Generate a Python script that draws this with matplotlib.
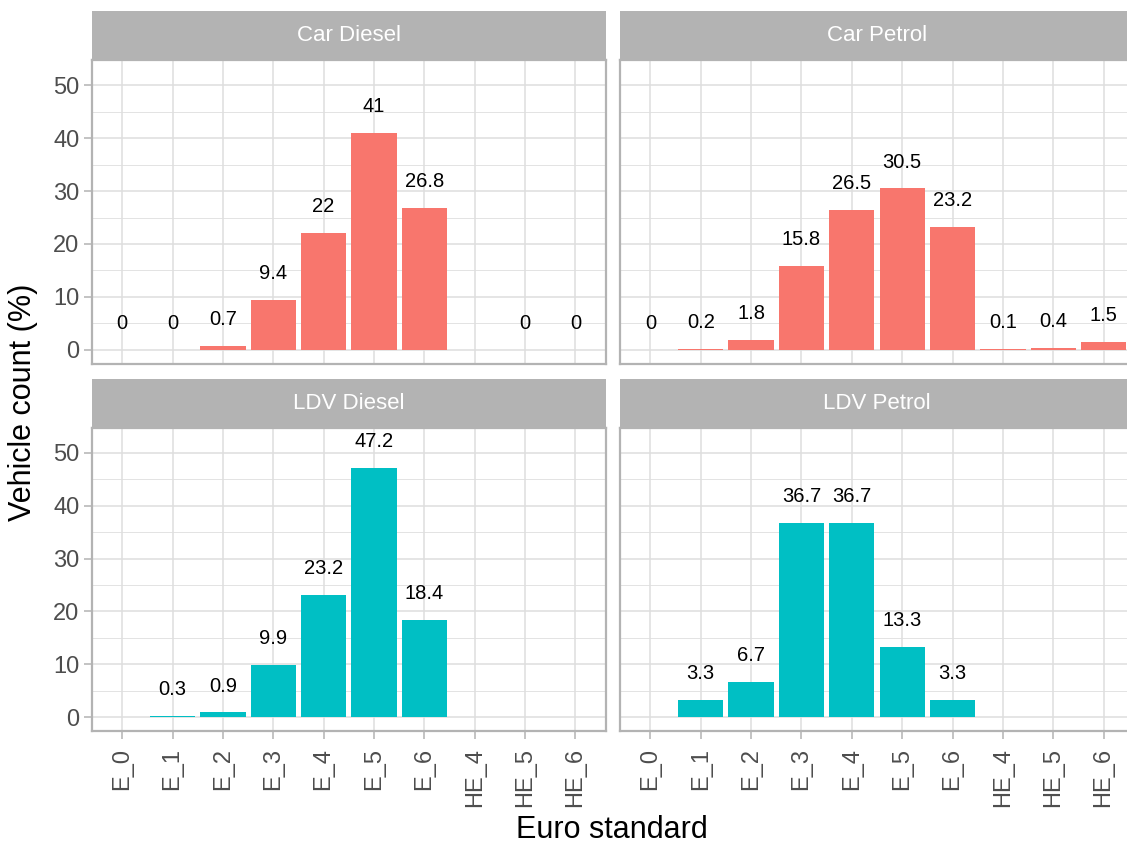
import numpy as np
import matplotlib
matplotlib.use("Agg")
import matplotlib.pyplot as plt
from matplotlib.ticker import MultipleLocator

plt.rcParams['font.family'] = ['Liberation Sans', 'DejaVu Sans']

# Euro emission standards on the x axis
euro_standards = ["E_0", "E_1", "E_2", "E_3", "E_4", "E_5", "E_6", "HE_4", "HE_5", "HE_6"]

# Share of vehicle count (%) per standard; NaN = category not present
nan = np.nan
car_diesel = [0, 0, 0.7, 9.4, 22, 41, 26.8, nan, 0, 0]
car_petrol = [0, 0.2, 1.8, 15.8, 26.5, 30.5, 23.2, 0.1, 0.4, 1.5]
ldv_diesel = [nan, 0.3, 0.9, 9.9, 23.2, 47.2, 18.4, nan, nan, nan]
ldv_petrol = [nan, 3.3, 6.7, 36.7, 36.7, 13.3, 3.3, nan, nan, nan]

panel_titles = ["Car Diesel", "Car Petrol", "LDV Diesel", "LDV Petrol"]
panel_types = ["Car", "Car", "LDV", "LDV"]
panel_values = [car_diesel, car_petrol, ldv_diesel, ldv_petrol]
type_colors = {"Car": "#F8766D", "LDV": "#00BFC4"}

label_offset = 5

# shared y scale with 5% expansion, as ggplot would do
all_vals = np.concatenate([np.array(v, float) for v in panel_values])
y_hi = np.nanmax(all_vals) + label_offset
y_lo = 0.0
pad = 0.05 * (y_hi - y_lo)
ylim = (y_lo - pad, y_hi + pad)

W, H = 1127, 844
fig = plt.figure(figsize=(W / 100, H / 100), dpi=100)
fig.patch.set_facecolor("white")


def box(x0, y0, x1, y1):
    return [x0 / W, 1 - y1 / H, (x1 - x0) / W, (y1 - y0) / H]


cols = [(92, 605.6), (620.2, 1133.8)]
rows = [(11, 60, 363.5), (379, 427.5, 731)]

grid_col = "#DEDEDE"
frame_col = "#B3B3B3"
tick_text = "#4D4D4D"

x = np.arange(1, len(euro_standards) + 1)

for i, (title, vtype, vals) in enumerate(zip(panel_titles, panel_types, panel_values)):
    r, c = divmod(i, 2)
    x0, x1 = cols[c]
    s0, p0, p1 = rows[r]
    ax = fig.add_axes(box(x0, p0, x1, p1))
    strip = fig.add_axes(box(x0, s0, x1, p0))

    vals = np.array(vals, float)
    ax.bar(x, np.nan_to_num(vals), width=0.9, color=type_colors[vtype],
           linewidth=0, zorder=2)
    for xi, v in zip(x, vals):
        if np.isnan(v):
            continue
        ax.text(xi, v + label_offset, f"{v:g}", ha="center", va="center",
                fontsize=14.5, color="black", zorder=3)

    ax.set_xlim(0.4, len(euro_standards) + 0.6)
    ax.set_ylim(*ylim)
    ax.set_xticks(x)
    ax.set_xticklabels(euro_standards, rotation=90, ha="center", va="top")
    ax.yaxis.set_major_locator(MultipleLocator(10))
    ax.yaxis.set_minor_locator(MultipleLocator(5))
    ax.set_axisbelow(True)
    ax.grid(which="major", color=grid_col, linewidth=1.1, zorder=0)
    ax.grid(which="minor", axis="y", color=grid_col, linewidth=0.6, zorder=0)
    for sp in ax.spines.values():
        sp.set_color(frame_col)
        sp.set_linewidth(1.6)
    ax.tick_params(which="major", color=frame_col, length=6, width=1.1,
                   labelsize=17, labelcolor=tick_text, pad=3)
    ax.tick_params(axis="x", which="major", pad=6)
    ax.tick_params(which="minor", length=0)
    if c == 1:
        ax.tick_params(axis="y", length=0, labelleft=False)
    if r == 0:
        ax.tick_params(axis="x", length=0, labelbottom=False)

    strip.set_facecolor(frame_col)
    strip.set_xticks([])
    strip.set_yticks([])
    for sp in strip.spines.values():
        sp.set_visible(False)
    strip.text(0.5, 0.5, title, ha="center", va="center", color="white",
               fontsize=16, transform=strip.transAxes)

fig.text(23 / W, 1 - 402 / H, "Vehicle count (%)", rotation=90,
         ha="center", va="center", fontsize=22, color="black")
fig.text(612 / W, 1 - 830 / H, "Euro standard", ha="center", va="center",
         fontsize=22, color="black")

fig.savefig("out.png", dpi=100)
